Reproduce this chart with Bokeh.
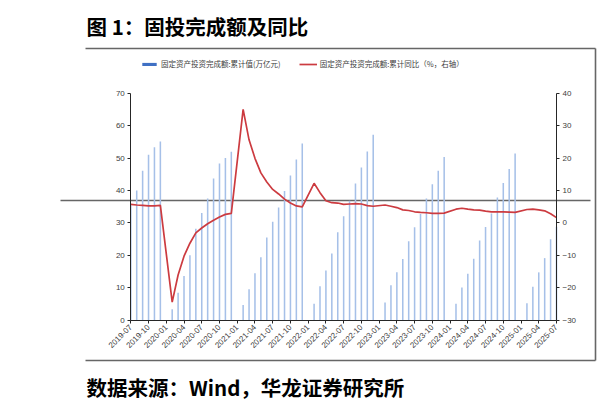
import math
from bokeh.plotting import figure
from bokeh.models import (Range1d, LinearAxis, FixedTicker, ColumnDataSource, Legend,
                          LegendItem, Label)
from bokeh.embed import file_html
from bokeh.resources import INLINE

# ---------------- data ----------------
title_text = "图 1：固投完成额及同比"
source_text = "数据来源：Wind，华龙证券研究所"
bar_label = "固定资产投资完成额:累计值(万亿元)"
line_label = "固定资产投资完成额:累计同比（%，右轴）"

tick_labels = ["2019-07", "2019-10", "2020-01", "2020-04", "2020-07", "2020-10",
               "2021-01", "2021-04", "2021-07", "2021-10", "2022-01", "2022-04",
               "2022-07", "2022-10", "2023-01", "2023-04", "2023-07", "2023-10",
               "2024-01", "2024-04", "2024-07", "2024-10", "2025-01", "2025-04",
               "2025-07"]

dates = ["2019-07", "2019-08", "2019-09", "2019-10", "2019-11", "2019-12",
         "2020-02", "2020-03", "2020-04", "2020-05", "2020-06", "2020-07", "2020-08", "2020-09", "2020-10", "2020-11", "2020-12",
         "2021-02", "2021-03", "2021-04", "2021-05", "2021-06", "2021-07", "2021-08", "2021-09", "2021-10", "2021-11", "2021-12",
         "2022-02", "2022-03", "2022-04", "2022-05", "2022-06", "2022-07", "2022-08", "2022-09", "2022-10", "2022-11", "2022-12",
         "2023-02", "2023-03", "2023-04", "2023-05", "2023-06", "2023-07", "2023-08", "2023-09", "2023-10", "2023-11", "2023-12",
         "2024-02", "2024-03", "2024-04", "2024-05", "2024-06", "2024-07", "2024-08", "2024-09", "2024-10", "2024-11", "2024-12",
         "2025-02", "2025-03", "2025-04", "2025-05", "2025-06", "2025-07"]

fai_cum = [35.4, 40.0, 46.1, 51.0, 53.3, 55.1,
           3.3, 8.4, 13.6, 20.0, 28.2, 33.0, 37.5, 43.7, 48.3, 50.0, 51.9,
           4.6, 9.5, 14.4, 19.4, 25.5, 30.3, 34.7, 39.8, 44.6, 49.5, 54.5,
           5.0, 10.4, 15.3, 20.5, 27.1, 32.0, 36.8, 42.1, 47.1, 52.0, 57.2,
           5.4, 10.7, 14.7, 18.8, 24.3, 28.6, 32.7, 37.5, 41.9, 46.1, 50.3,
           5.0, 10.0, 14.3, 18.9, 24.5, 28.7, 32.9, 37.8, 42.3, 46.6, 51.4,
           5.2, 10.3, 14.7, 19.1, 24.9, 28.8]

fai_yoy = [5.7, 5.5, 5.4, 5.2, 5.2, 5.4,
           -24.5, -16.1, -10.3, -6.3, -3.1, -1.6, -0.3, 0.8, 1.8, 2.6, 2.9,
           35.0, 25.6, 19.9, 15.4, 12.6, 10.3, 8.9, 7.3, 6.1, 5.2, 4.9,
           12.2, 9.3, 6.8, 6.2, 6.1, 5.7, 5.8, 5.9, 5.8, 5.3, 5.1,
           5.5, 5.1, 4.7, 4.0, 3.8, 3.4, 3.2, 3.1, 2.9, 2.9, 3.0,
           4.2, 4.5, 4.2, 4.0, 3.9, 3.6, 3.4, 3.4, 3.4, 3.3, 3.2,
           4.1, 4.2, 4.0, 3.7, 2.8, 1.6]

left_ticks = [0, 10, 20, 30, 40, 50, 60, 70]
right_ticks = [-30, -20, -10, 0, 10, 20, 30, 40]

# ---------------- helpers ----------------
def month_index(s):
    y, m = s.split("-")
    return (int(y) - 2019) * 12 + (int(m) - 7)

xs = [month_index(d) for d in dates]
tick_pos = [month_index(t) for t in tick_labels]
src = ColumnDataSource(dict(x=xs, cum=fai_cum, yoy=fai_yoy))

CJK = "Noto Sans CJK SC"
LAT = "Liberation Sans"

W, H = 599, 410
PX0, PX1 = 130.3, 556.0
PY0, PY1 = 319.5, 92.7
xmax = tick_pos[-1]
sx = (PX1 - PX0) / xmax
lmin, lmax = left_ticks[0], left_ticks[-1]
rmin, rmax = right_ticks[0], right_ticks[-1]
sy = (PY0 - PY1) / (lmax - lmin)

x_range = Range1d(0 - PX0 / sx, xmax + (W - PX1) / sx)
y_range = Range1d(lmin - (H - PY0) / sy, lmax + PY1 / sy)
yoy_range = Range1d(rmin - (H - PY0) / sy, rmax + PY1 / sy)

p = figure(width=W, height=H, x_range=x_range, y_range=y_range,
           output_backend="svg", toolbar_location=None,
           x_axis_location=None, y_axis_location=None,
           min_border=0, min_border_left=0, min_border_right=0,
           min_border_top=0, min_border_bottom=0)
p.title.visible = False
p.extra_y_ranges = {"yoy": yoy_range, "py": Range1d(H, 0)}
p.extra_x_ranges = {"px": Range1d(0, W)}
p.grid.visible = False
p.outline_line_color = None

# page rules (furniture), in canvas pixels via pixel ranges
rules = ColumnDataSource(dict(x0=[85, 85, 595, 60], y0=[48, 360, 48, 200],
                              x1=[595, 595, 595, 590], y1=[48, 360, 360, 200]))
p.segment(x0="x0", y0="y0", x1="x1", y1="y1", source=rules,
          x_range_name="px", y_range_name="py", line_color="#666666", line_width=1.6)

bars = p.vbar(x="x", top="cum", width=0.26, source=src, fill_color="#a6c0e8",
              line_color=None)
line = p.line(x="x", y="yoy", source=src, y_range_name="yoy", line_color="#cc3b40",
              line_width=1.7)
legend_bar = p.vbar(x="x", top="cum", width=0, source=src, fill_color="#3f70c4",
                    line_color=None)

xaxis = LinearAxis(fixed_location=lmin, bounds=(0, xmax),
                   ticker=FixedTicker(ticks=tick_pos, minor_ticks=[]))
xaxis.major_label_overrides = {k: v for k, v in zip(tick_pos, tick_labels)}
xaxis.major_label_orientation = math.pi / 4
yaxis_l = LinearAxis(fixed_location=0, bounds=(lmin, lmax),
                     ticker=FixedTicker(ticks=left_ticks, minor_ticks=[]))
yaxis_r = LinearAxis(y_range_name="yoy", fixed_location=xmax, bounds=(rmin, rmax),
                     ticker=FixedTicker(ticks=right_ticks, minor_ticks=[]))
p.add_layout(xaxis, "below")
p.add_layout(yaxis_l, "left")
p.add_layout(yaxis_r, "right")

for ax in (xaxis, yaxis_l, yaxis_r):
    ax.axis_line_color = "#262626"
    ax.axis_line_width = 1
    ax.major_tick_line_color = "#262626"
    ax.major_tick_out = 3
    ax.major_tick_in = 0
    ax.minor_tick_line_color = None
    ax.major_label_text_font = LAT
    ax.major_label_text_font_size = "8px"
    ax.major_label_text_color = "#404040"
    ax.major_label_standoff = 3

legend = Legend(items=[LegendItem(label=bar_label, renderers=[legend_bar]),
                       LegendItem(label=line_label, renderers=[line])],
                location=(140, H - 69), orientation="horizontal",
                glyph_width=18, glyph_height=4, label_height=10,
                label_text_font=CJK, label_text_font_size="7.5px",
                label_text_color="#404040", label_standoff=3,
                padding=0, margin=0, spacing=18,
                border_line_color=None, background_fill_alpha=0)
p.add_layout(legend, "center")

p.add_layout(Label(x=86, y=H - 25, x_units="screen", y_units="screen",
                   text=title_text, text_font=CJK, text_font_style="bold",
                   text_font_size="20.5px", text_baseline="middle", text_color="#000000"))
p.add_layout(Label(x=86, y=H - 386, x_units="screen", y_units="screen",
                   text=source_text, text_font=CJK, text_font_style="bold",
                   text_font_size="20.5px", text_baseline="middle", text_color="#000000"))

open("out.html", "w").write(file_html(p, INLINE))
